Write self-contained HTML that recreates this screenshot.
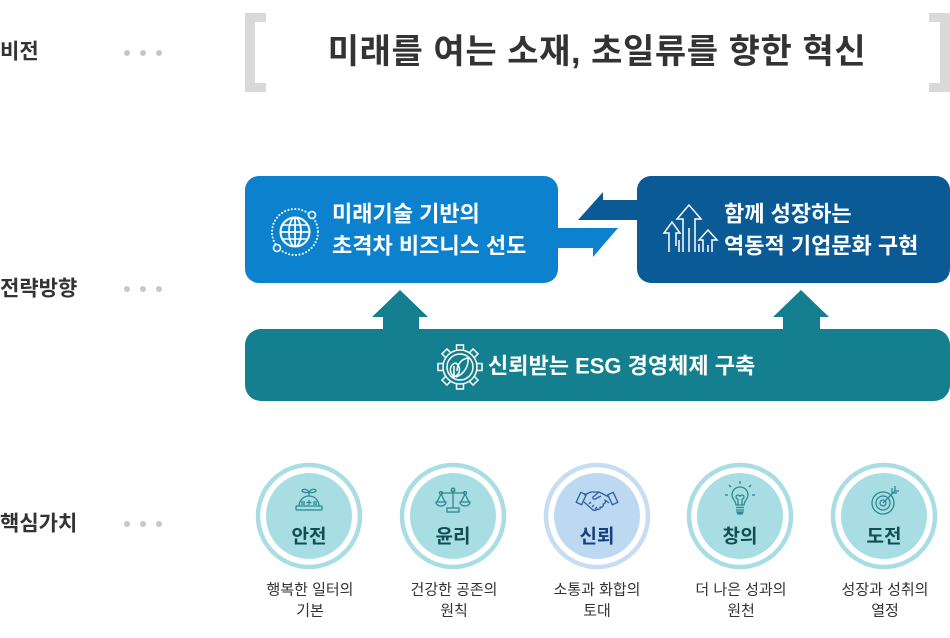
<!DOCTYPE html>
<html><head><meta charset="utf-8">
<style>
html,body{margin:0;padding:0;background:#fff;}
body{width:950px;height:638px;overflow:hidden;}
svg{display:block;}
text{font-family:"Liberation Sans","Noto Sans CJK KR",sans-serif;}
</style></head><body>
<svg width="950" height="638" viewBox="0 0 950 638" xmlns="http://www.w3.org/2000/svg">
  <!-- Left labels -->
  <g font-weight="bold" font-size="21" fill="#333" dominant-baseline="central">
    <text x="0" y="52">비전</text>
    <text x="0" y="289">전략방향</text>
    <text x="0" y="524">핵심가치</text>
  </g>
  <g fill="#c9c9c9">
    <circle cx="127" cy="53" r="3"/><circle cx="143" cy="53" r="3"/><circle cx="159" cy="53" r="3"/>
    <circle cx="127" cy="289" r="3"/><circle cx="143" cy="289" r="3"/><circle cx="159" cy="289" r="3"/>
    <circle cx="127" cy="524" r="3"/><circle cx="143" cy="524" r="3"/><circle cx="159" cy="524" r="3"/>
  </g>

  <!-- Vision brackets -->
  <g fill="#d9d9d9">
    <rect x="245" y="13" width="10" height="79"/>
    <rect x="245" y="13" width="21" height="9"/>
    <rect x="245" y="83" width="21" height="9"/>
    <rect x="940" y="13" width="10" height="79"/>
    <rect x="929" y="13" width="21" height="9"/>
    <rect x="929" y="83" width="21" height="9"/>
  </g>
  <text x="597" y="52" font-size="34" font-weight="bold" fill="#333" text-anchor="middle" dominant-baseline="central" letter-spacing="0.6">미래를 여는 소재, 초일류를 향한 혁신</text>

  <!-- Strategy boxes -->
  <rect x="245" y="176" width="313" height="107" rx="14" fill="#0c82cf"/>
  <rect x="637" y="176" width="313" height="107" rx="14" fill="#0a5a96"/>
  <polygon points="603,192 578,220 641,220 641,200 603,200" fill="#0a5a96"/>
  <polygon points="554,228 618,228 593,257 593,248 554,248" fill="#0c82cf"/>

  <!-- Globe icon -->
  <g fill="none" stroke="#fff">
    <circle cx="295" cy="232" r="23" stroke-width="2" stroke-dasharray="0.1 3.4" stroke-linecap="round"/>
    <circle cx="312" cy="215" r="3.5" stroke-width="1.6" fill="#0c82cf"/>
    <circle cx="277" cy="248" r="3.5" stroke-width="1.6" fill="#0c82cf"/>
    <circle cx="295" cy="232" r="14.5" stroke-width="2"/>
    <ellipse cx="295" cy="232" rx="6" ry="14.5" stroke-width="1.8"/>
    <line x1="295" y1="218" x2="295" y2="246" stroke-width="1.8"/>
    <line x1="281" y1="232" x2="309" y2="232" stroke-width="1.8"/>
    <line x1="283" y1="225" x2="307" y2="225" stroke-width="1.6"/>
    <line x1="283" y1="239" x2="307" y2="239" stroke-width="1.6"/>
  </g>
  <g font-size="22" font-weight="bold" fill="#fff" dominant-baseline="central">
    <text x="332" y="214">미래기술 기반의</text>
    <text x="332" y="246">초격차 비즈니스 선도</text>
    <text x="724" y="214">함께 성장하는</text>
    <text x="724" y="246">역동적 기업문화 구현</text>
  </g>

  <!-- Growth icon -->
  <g fill="none" stroke="#fff" stroke-width="1.5" stroke-linejoin="miter">
    <polyline points="683,252 683,219 677,219 689,205 701,219 695,219 695,252"/>
    <polyline points="669,252 669,233 664,233 672,222 680,233 676,233 676,246"/>
    <polyline points="703,252 703,240 699,240 708,230 717,240 712,240 712,252"/>
    <line x1="689" y1="228" x2="689" y2="252"/>
    <line x1="699" y1="244" x2="699" y2="252"/>
    <line x1="679" y1="240" x2="679" y2="252"/>
    <line x1="708" y1="245" x2="708" y2="252"/>
  </g>

  <!-- ESG bar -->
  <rect x="245" y="329" width="705" height="72" rx="16" fill="#137f8f"/>
  <polygon points="400,290 428,317 419,317 419,330 383,330 383,317 372,317" fill="#137f8f"/>
  <polygon points="801,290 829,317 820,317 820,330 783,330 783,317 773,317" fill="#137f8f"/>
  <!-- gear icon -->
  <g transform="translate(460,367)" fill="none" stroke="#fff" stroke-width="1.5">
    <g>
      <rect x="-3.5" y="-22" width="7" height="6"/>
      <rect x="-3.5" y="-22" width="7" height="6" transform="rotate(45)"/>
      <rect x="-3.5" y="-22" width="7" height="6" transform="rotate(90)"/>
      <rect x="-3.5" y="-22" width="7" height="6" transform="rotate(135)"/>
      <rect x="-3.5" y="-22" width="7" height="6" transform="rotate(180)"/>
      <rect x="-3.5" y="-22" width="7" height="6" transform="rotate(225)"/>
      <rect x="-3.5" y="-22" width="7" height="6" transform="rotate(270)"/>
      <rect x="-3.5" y="-22" width="7" height="6" transform="rotate(315)"/>
    </g>
    <circle r="17" fill="#137f8f"/>
    <circle r="13"/>
    <path d="M-6,10 C-12,4 -10,-3 -4,-4 C1,0 1,7 -6,10 Z"/>
    <path d="M-4,10 C2,8 9,1 8,-9 C1,-8 -3,-2 -3,4"/>
    <path d="M-6,10 L-6,-1"/>
  </g>
  <text x="488" y="366" font-size="22" font-weight="bold" fill="#fff" dominant-baseline="central">신뢰받는 ESG 경영체제 구축</text>

  <!-- Core values circles -->
  <g>
    <circle cx="309" cy="516" r="51" fill="none" stroke="#a9dde3" stroke-width="4.5"/>
    <circle cx="309" cy="516" r="43" fill="#a8dde3"/>
    <circle cx="453" cy="516" r="51" fill="none" stroke="#a9dde3" stroke-width="4.5"/>
    <circle cx="453" cy="516" r="43" fill="#a8dde3"/>
    <circle cx="597" cy="516" r="51" fill="none" stroke="#c6ddf3" stroke-width="4.5"/>
    <circle cx="597" cy="516" r="43" fill="#bdd9f2"/>
    <circle cx="740" cy="516" r="51" fill="none" stroke="#a9dde3" stroke-width="4.5"/>
    <circle cx="740" cy="516" r="43" fill="#a8dde3"/>
    <circle cx="884" cy="516" r="51" fill="none" stroke="#a9dde3" stroke-width="4.5"/>
    <circle cx="884" cy="516" r="43" fill="#a8dde3"/>
  </g>

  <!-- icons -->
  <g transform="translate(309,501)" fill="none" stroke="#2a8893" stroke-width="1.3">
    <rect x="-13" y="5" width="26" height="4" rx="1"/>
    <path d="M-10,5 A10,10 0 0 1 10,5"/>
    <line x1="0" y1="-1" x2="0" y2="4"/><line x1="-2.5" y1="1.5" x2="2.5" y2="1.5"/>
    <line x1="-8" y1="1" x2="-4" y2="1"/><line x1="-8" y1="3" x2="-4" y2="3"/>
    <line x1="4" y1="1" x2="8" y2="1"/><line x1="4" y1="3" x2="8" y2="3"/>
    <line x1="0" y1="-5" x2="0" y2="-10"/>
    <path d="M0,-9 C-3,-13 -7,-12 -7,-10 C-5,-8 -2,-8 0,-9 Z"/>
    <path d="M0,-9 C3,-13 7,-12 7,-10 C5,-8 2,-8 0,-9 Z"/>
  </g>
  <g transform="translate(453,501)" fill="none" stroke="#2a8893" stroke-width="1.3">
    <line x1="0" y1="-11" x2="0" y2="7"/>
    <rect x="-6" y="7" width="12" height="4"/>
    <line x1="-12" y1="-8" x2="12" y2="-8"/>
    <circle cx="0" cy="-11" r="1.8"/>
    <circle cx="-12" cy="-8" r="1.5"/><circle cx="12" cy="-8" r="1.5"/>
    <path d="M-12,-7 L-16,1 M-12,-7 L-8,1 M12,-7 L8,1 M12,-7 L16,1"/>
    <path d="M-17,1 H-7 A5,4 0 0 1 -17,1 Z"/>
    <path d="M7,1 H17 A5,4 0 0 1 7,1 Z"/>
  </g>
  <g transform="translate(597,501)" fill="none" stroke="#2d5f9e" stroke-width="1.3" stroke-linejoin="round">
    <rect x="-19" y="-8" width="6" height="11" transform="rotate(25 -16 -2)"/>
    <rect x="13" y="-8" width="6" height="11" transform="rotate(-25 16 -2)"/>
    <path d="M-13,-6 L-6,-9 L2,-9 L12,-4"/>
    <path d="M-13,1 L-4,9 C-2,10 0,9 0,8 C2,9 4,8 3,6 C5,7 7,5 6,3 C8,3 9,1 8,-1 L12,2"/>
    <path d="M2,-9 L-4,-4 C-5,-2 -2,-1 0,-3 L4,-5"/>
    <path d="M-8,3 L-6,1 M-5,6 L-3,4 M-2,8 L0,6"/>
  </g>
  <g transform="translate(740,500)" fill="none" stroke="#2a8893" stroke-width="1.3">
    <path d="M-4,5 C-4,1 -8,-1 -8,-5 A8,8 0 0 1 8,-5 C8,-1 4,1 4,5 Z"/>
    <path d="M-2,5 L-2,-1 M2,5 L2,-1 M-2,-1 A2,2 0 1 1 0,-3 A2,2 0 1 1 2,-1"/>
    <line x1="-4" y1="7.5" x2="4" y2="7.5"/>
    <line x1="-4" y1="10" x2="4" y2="10"/>
    <path d="M-3,12 H3 L2,14 H-2 Z" fill="#2a8893"/>
    <line x1="0" y1="-16" x2="0" y2="-19"/>
    <line x1="-9" y1="-13" x2="-11" y2="-15"/><line x1="9" y1="-13" x2="11" y2="-15"/>
    <line x1="-12" y1="-5" x2="-15" y2="-5"/><line x1="12" y1="-5" x2="15" y2="-5"/>
  </g>
  <g transform="translate(884,501)" fill="none" stroke="#2a8893" stroke-width="1.3">
    <circle cx="-1" cy="2" r="11"/>
    <circle cx="-1" cy="2" r="7"/>
    <circle cx="-1" cy="2" r="3"/>
    <line x1="-1" y1="2" x2="11" y2="-10"/>
    <path d="M8,-13 L8,-8 L13,-8 M11,-15 L11,-10 L15,-10"/>
  </g>

  <!-- labels -->
  <g font-size="19" font-weight="bold" text-anchor="middle" dominant-baseline="central" fill="#0f4d57">
    <text x="309" y="537">안전</text>
    <text x="453" y="537">윤리</text>
    <text x="597" y="537" fill="#163f7d">신뢰</text>
    <text x="740" y="537">창의</text>
    <text x="884" y="537">도전</text>
  </g>
  <g font-size="15" text-anchor="middle" dominant-baseline="central" fill="#333">
    <text x="310" y="590">행복한 일터의</text>
    <text x="310" y="611">기본</text>
    <text x="454" y="590">건강한 공존의</text>
    <text x="454" y="611">원칙</text>
    <text x="597" y="590">소통과 화합의</text>
    <text x="597" y="611">토대</text>
    <text x="741" y="590">더 나은 성과의</text>
    <text x="741" y="611">원천</text>
    <text x="885" y="590">성장과 성취의</text>
    <text x="885" y="611">열정</text>
  </g>
</svg>
</body></html>
